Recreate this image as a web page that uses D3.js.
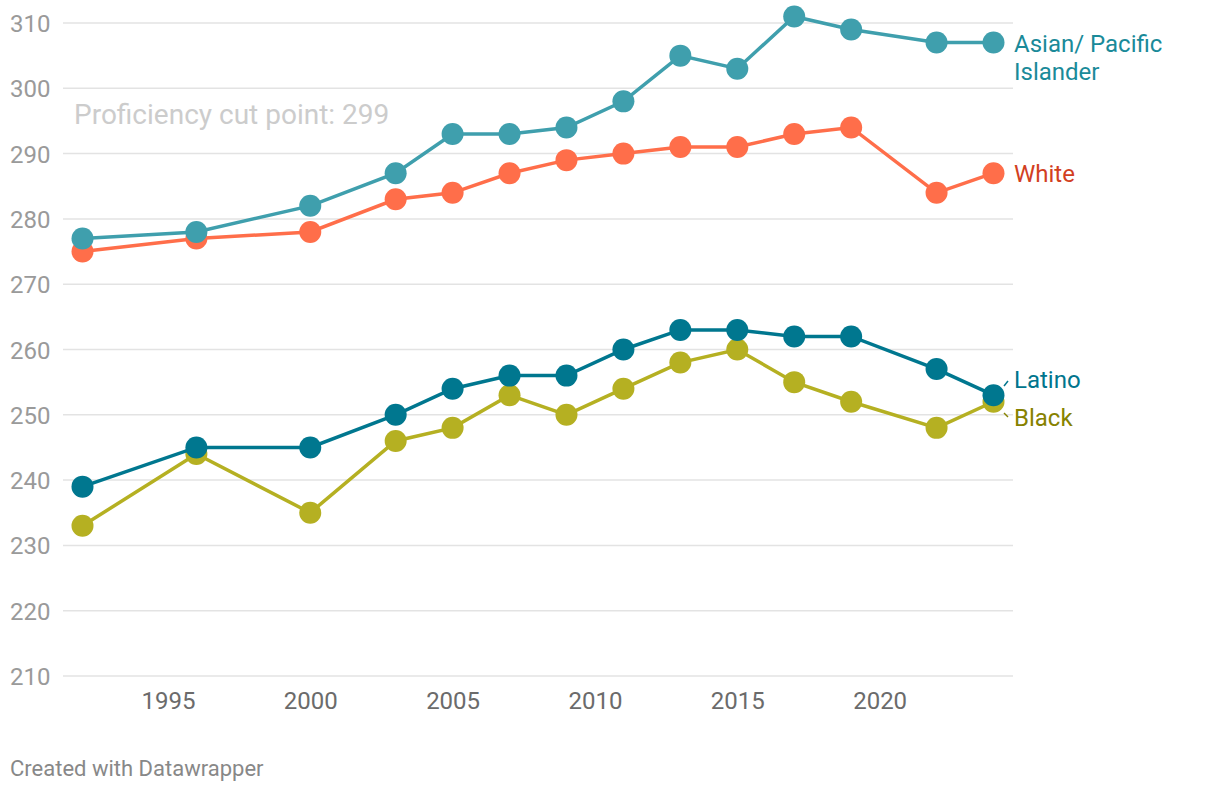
<!DOCTYPE html>
<html>
<head>
<meta charset="utf-8">
<script src="https://cdn.jsdelivr.net/npm/d3@7"></script>
<style>
  body { margin: 0; background: #fff; font-family: Roboto, "Noto Sans", sans-serif; }
</style>
</head>
<body>
<div id="chart"></div>
<script>
// data
var years = [1992, 1996, 2000, 2003, 2005, 2007, 2009, 2011, 2013, 2015, 2017, 2019, 2022, 2024];
var asian = [277, 278, 282, 287, 293, 293, 294, 298, 305, 303, 311, 309, 307, 307];
var white = [275, 277, 278, 283, 284, 287, 289, 290, 291, 291, 293, 294, 284, 287];
var latino = [239, 245, 245, 250, 254, 256, 256, 260, 263, 263, 262, 262, 257, 253];
var black = [233, 244, 235, 246, 248, 253, 250, 254, 258, 260, 255, 252, 248, 252];
var yTicks = [210, 220, 230, 240, 250, 260, 270, 280, 290, 300, 310];
var xTicks = [1995, 2000, 2005, 2010, 2015, 2020];

var width = 1220, height = 794;

var svg = d3.select("#chart").append("svg")
    .attr("width", width)
    .attr("height", height);

var x = d3.scaleLinear().domain([1992, 2024]).range([82.5, 993.5]);
var y = d3.scaleLinear().domain([210, 310]).range([676, 23]);

// grid + y labels
var yAxis = svg.append("g").attr("class", "yAxis");
yTicks.forEach(function(t) {
    yAxis.append("line")
        .attr("x1", 63).attr("x2", 1013)
        .attr("y1", y(t)).attr("y2", y(t))
        .attr("stroke", "#e3e3e3").attr("stroke-width", 1.5);
    yAxis.append("text")
        .attr("x", 10).attr("y", y(t) + 9)
        .attr("font-size", 24).attr("fill", "#9a9a9a")
        .text(t);
});

// x labels
var xAxis = d3.axisBottom(x).tickValues(xTicks).tickFormat(d3.format("d")).tickSize(0);
svg.append("g")
    .attr("transform", "translate(0," + 689 + ")")
    .call(xAxis)
    .call(function(g) {
        g.select(".domain").remove();
        g.selectAll("text")
            .attr("font-family", "Roboto, sans-serif")
            .attr("font-size", 24)
            .attr("fill", "#6b6b6b");
    });

svg.append("text")
    .attr("x", 74).attr("y", 124)
    .attr("font-size", 28).attr("fill", "#cccccc")
    .text("Proficiency cut point: 299");

var series = [
    { name: "Black", values: black, color: "#b5b022" },
    { name: "Latino", values: latino, color: "#00778f" },
    { name: "White", values: white, color: "#ff6e4a" },
    { name: "Asian", values: asian, color: "#3f9fad" }
];

var line = d3.line()
    .x(function(d, i) { return x(years[i]); })
    .y(function(d) { return y(d); });

series.forEach(function(s) {
    var g = svg.append("g");
    g.append("path")
        .datum(s.values)
        .attr("d", line)
        .attr("fill", "none")
        .attr("stroke", s.color)
        .attr("stroke-width", 3.5);
    g.selectAll("circle").data(s.values).enter()
        .append("circle")
        .attr("cx", function(d, i) { return x(years[i]); })
        .attr("cy", function(d) { return y(d); })
        .attr("r", 11)
        .attr("fill", s.color);
});

// labels
var lx = 1014;
svg.append("text").attr("x", lx).attr("y", 52)
    .attr("font-size", 24).attr("fill", "#1a8a99").text("Asian/ Pacific");
svg.append("text").attr("x", lx).attr("y", 80)
    .attr("font-size", 24).attr("fill", "#1a8a99").text("Islander");
svg.append("text").attr("x", lx).attr("y", 182)
    .attr("font-size", 24).attr("fill", "#d2401f").text("White");
svg.append("text").attr("x", lx).attr("y", 388)
    .attr("font-size", 24).attr("fill", "#00758d").text("Latino");
svg.append("text").attr("x", lx).attr("y", 426)
    .attr("font-size", 24).attr("fill", "#878200").text("Black");
// connectors
svg.append("line").attr("x1", 1004).attr("y1", 386).attr("x2", 1008).attr("y2", 381)
    .attr("stroke", "#00758d").attr("stroke-width", 1.5);
svg.append("line").attr("x1", 1004).attr("y1", 413).attr("x2", 1008).attr("y2", 417)
    .attr("stroke", "#878200").attr("stroke-width", 1.5);

svg.append("text")
    .attr("x", 10).attr("y", 776)
    .attr("font-size", 22).attr("fill", "#888888")
    .text("Created with Datawrapper");
</script>
</body>
</html>
